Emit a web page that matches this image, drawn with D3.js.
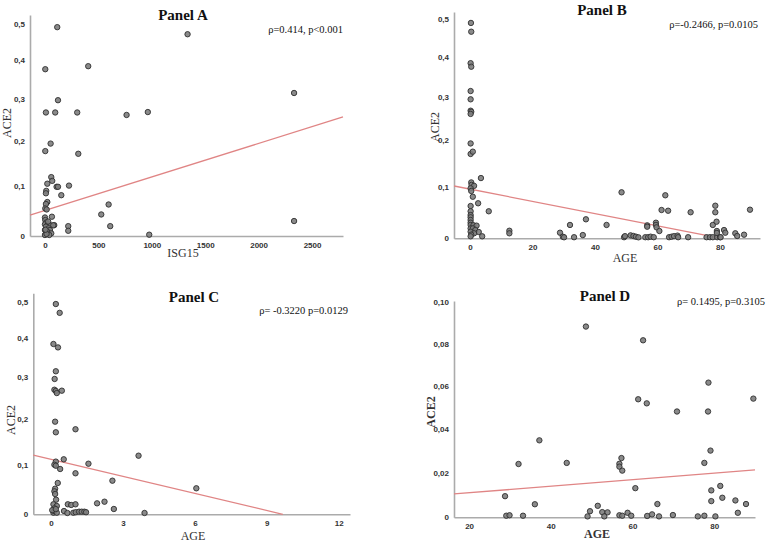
<!DOCTYPE html>
<html><head><meta charset="utf-8">
<script src="https://cdn.jsdelivr.net/npm/d3@7"></script>
<style>
html,body{margin:0;padding:0;background:#fff;}
svg{display:block;}
.tick text{font-family:"Liberation Sans",Arial,sans-serif;font-weight:bold;font-size:8px;fill:#333;}
</style></head>
<body><svg id="c" width="767" height="544"></svg>
<script>
// ---------- DATA ----------
const panelTitles = ["Panel A", "Panel B", "Panel C", "Panel D"];
const statLabels = ["ρ=0.414, p<0.001", "ρ=-0.2466, p=0.0105", "ρ= -0.3220 p=0.0129", "ρ= 0.1495, p=0.3105"];
const xLabels = ["ISG15", "AGE", "AGE", "AGE"];
const yLabel = "ACE2";

const xTicksA = [0, 500, 1000, 1500, 2000, 2500];
const xTicksB = [0, 20, 40, 60, 80];
const xTicksC = [0, 3, 6, 9, 12];
const xTicksD = [20, 40, 60, 80];
const yTicksABC = [0, 0.1, 0.2, 0.3, 0.4, 0.5];
const yTicksD = [0, 0.02, 0.04, 0.06, 0.08, 0.10];

// Panel A: [ISG15, ACE2]
const pointsA = [[115,0.49],[3,0.375],[405,0.383],[122,0.296],[9,0.266],[96,0.266],[302,0.266],[764,0.26],[963,0.267],
[1335,0.47],[2332,0.314],[2332,0.029],[53,0.193],[3,0.176],[312,0.17],[59,0.119],[68,0.111],[22,0.105],[109,0.0985],
[122,0.0985],[225,0.101],[153,0.081],[12,0.09],[9,0.085],[22,0.067],[9,0.063],[3,0.054],[16,0.052],[596,0.062],
[527,0.042],[65,0.0375],[611,0.019],[218,0.019],[218,0.010],[976,0.0025],[87,0.021],[0,0.036],[3,0.031],[12,0.026],
[0,0.0226],[28,0.0226],[53,0.0206],[78,0.0206],[9,0.018],[35,0.0148],[47,0.0115],[0,0.0115],[22,0.0082],[59,0.0051],
[9,0.0045],[40,0.0019],[0,0.0019],[15,0.004],[5,0.012],[30,0.028]];
// Panel B: [AGE, ACE2]
const pointsB = [[0.3,0.49],[0.4,0.466],[0.2,0.383],[0.4,0.374],[0.2,0.3135],[0.2,0.2935],[0.2,0.2665],[0.4,0.264],
[0.2,0.259],[0.2,0.192],[0.2,0.169],[0.9,0.174],[3.5,0.118],[0.4,0.109],[0.5,0.104],[1.3,0.102],[0.2,0.097],[0.4,0.0916],
[0.9,0.08],[2.6,0.067],[6,0.0513],[0.2,0.0616],[0.2,0.0513],[0.2,0.044],[0.2,0.0397],[0.2,0.0345],[0.2,0.0293],[0.2,0.025],
[1.1,0.0245],[2.1,0.0237],[0.2,0.0185],[0.9,0.0185],[1.7,0.0154],[2.8,0.0117],[0.2,0.0123],[1.3,0.0093],[0.4,0.0067],
[3.9,0.0037],[0.2,0.0037],[12.6,0.0141],[12.6,0.0093],[28.8,0.0104],[29.7,0.003],[30.1,0.0019],[32,0.025],[33.3,0.002],
[36.1,0.006],[37.1,0.0358],[43.7,0.025],[48.5,0.0889],[49.3,0.002],[49.6,0.004],[51.4,0.0055],[52.3,0.0043],[53.1,0.003],
[53.9,0.0018],[56.7,0.0243],[56.7,0.0217],[56.1,0.002],[57,0.002],[57.8,0.003],[58.8,0.002],[59.5,0.0293],[59.5,0.0251],
[59.7,0.0205],[60.6,0.0136],[62.5,0.0829],[61.3,0.0538],[63.4,0.0524],[63.7,0.002],[64.5,0.003],[65.3,0.004],[66.4,0.005],
[66.6,0.002],[69.8,0.002],[70.6,0.0494],[75.7,0.002],[76.8,0.002],[77.7,0.002],[79.1,0.002],[80,0.002],[77.7,0.025],
[78.5,0.0622],[78.5,0.0494],[78.9,0.0312],[79,0.0136],[79,0.010],[81.3,0.0154],[81.7,0.0104],[84.9,0.0093],[85.5,0.0043],
[87.7,0.0067],[89.6,0.0544],[80.2,0.002]];
// Panel C: [AGE, ACE2]
const pointsC = [[0.2,0.495],[0.36,0.47],[0.1,0.385],[0.29,0.376],[0.2,0.3146],[0.15,0.2954],[0.14,0.269],[0.2,0.266],
[0.24,0.261],[0.45,0.2667],[0.17,0.1938],[0.2,0.1698],[1.02,0.1766],[3.65,0.1186],[0.53,0.1109],[1.56,0.1016],[0.2,0.106],
[0.14,0.0995],[0.2,0.0974],[0.38,0.0905],[1.02,0.0816],[2.56,0.0664],[0.28,0.0617],[0.17,0.0502],[0.14,0.045],[0.17,0.0396],
[0.21,0.0283],[0.1,0.0193],[0.24,0.016],[0.14,0.0115],[0.7,0.0193],[0.84,0.018],[1.02,0.0193],[1.92,0.0212],[2.23,0.0244],
[2.62,0.0102],[3.9,0.0025],[0.54,0.0063],[0.68,0.0025],[0.93,0.003],[1.03,0.004],[1.17,0.005],[1.28,0.005],[1.39,0.005],
[1.46,0.004],[0.1,0.003],[0.14,0.006],[0.24,0.003],[0.05,0.008],[0.2,0.010],[6.06,0.051]];
// Panel D: [AGE, ACE2]
const pointsD = [[48.6,0.0882],[62.6,0.0816],[78.6,0.0615],[61.4,0.0537],[63.5,0.0518],[89.6,0.054],[70.9,0.048],[78.5,0.048],
[37.2,0.0347],[79.1,0.030],[57.3,0.0266],[32.1,0.0239],[43.9,0.0244],[56.8,0.024],[56.8,0.0227],[77.6,0.0244],[57.5,0.0209],
[60.7,0.013],[81.5,0.014],[79.3,0.012],[82,0.0087],[79.3,0.0072],[85.2,0.0075],[87.8,0.0059],[28.8,0.0094],[36.1,0.0058],
[66.1,0.0059],[51.5,0.0051],[49.6,0.0027],[52.6,0.0023],[53.9,0.0022],[58.8,0.002],[85.8,0.002],[29.1,0.0007],[29.9,0.0009],
[33.2,0.0007],[49,0.0004],[53.1,0.0004],[56.8,0.0009],[57.5,0.0007],[59.7,0.0007],[63.6,0.0006],[64.8,0.0013],[66.5,0.0004],
[69.9,0.001],[76,0.0004],[77.6,0.0007],[80.3,0.0004]];

// Fit lines (endpoints)
const fitA = [[-140,0.0408],[2790,0.2553]];
const fitB = [[-5.1,0.1017],[80.5,0]];
const fitC = [[-0.74,0.12],[9.67,0]];
const fitD = [[16.3,0.0104],[90,0.0212]];

// ---------- LAYOUT ----------
const panels = [
  {pts:pointsA, fit:fitA, xt:xTicksA, yt:yTicksABC, xd:[-140,2790], yd:[0,0.525], x0:30, x1:343, y0:236, y1:15,
   title:[183,20], stat:[343,33], xl:[183,257], yl:[11,123], bold:false},
  {pts:pointsB, fit:fitB, xt:xTicksB, yt:yTicksABC, xd:[-5.12,92.8], yd:[0,0.5205], x0:454, x1:760, y0:238.3, y1:12,
   title:[602,15], stat:[758,28], xl:[625,262], yl:[439,127], bold:false},
  {pts:pointsC, fit:fitC, xt:xTicksC, yt:yTicksABC, xd:[-0.74,12.47], yd:[0,0.526], x0:33.3, x1:350, y0:514.3, y1:293.3,
   title:[194,302], stat:[348,314], xl:[193,540], yl:[15,420], bold:false},
  {pts:pointsD, fit:fitD, xt:xTicksD, yt:yTicksD, xd:[16.3,90], yd:[0,0.1006], x0:454, x1:755, y0:517.3, y1:301,
   title:[605,301], stat:[765,305], xl:[597,538], yl:[435,412], bold:true}
];

const svg = d3.select("#c");
const fmtComma = v => v === 0 ? "0" : d3.format(".1f")(v).replace(".", ",");
const fmtComma2 = v => v === 0 ? "0" : d3.format(".2f")(v).replace(".", ",");

panels.forEach((p, i) => {
  const g = svg.append("g");
  const x = d3.scaleLinear().domain(p.xd).range([p.x0, p.x1]);
  const y = d3.scaleSymlog().constant(1).domain(p.yd).range([p.y0, p.y1]);

  const xa = g.append("g").attr("transform", `translate(0,${p.y0})`)
    .call(d3.axisBottom(x).tickValues(p.xt).tickSize(0).tickPadding(6).tickFormat(d3.format("d")));
  const ya = g.append("g").attr("transform", `translate(${p.x0},0)`)
    .call(d3.axisLeft(y).tickValues(p.yt).tickSize(0).tickPadding(5).tickFormat(i === 3 ? fmtComma2 : fmtComma));
  [xa, ya].forEach(a => a.select(".domain").attr("stroke", "#ababab").attr("stroke-width", 1.6));

  // fit line
  g.append("path").datum(p.fit)
    .attr("d", d3.line().x(d => x(d[0])).y(d => y(d[1])))
    .attr("fill", "none").attr("stroke", "#e08585").attr("stroke-width", 1.3);

  // points
  g.append("g").selectAll("circle").data(p.pts).join("circle")
    .attr("cx", d => x(d[0])).attr("cy", d => y(d[1])).attr("r", 2.7)
    .attr("fill", "#7d7d7d").attr("stroke", "#2f2f2f").attr("stroke-width", 0.9).attr("fill-opacity", 0.9);

  const serif = "'Liberation Serif','Times New Roman',serif";
  g.append("text").attr("x", p.title[0]).attr("y", p.title[1]).attr("text-anchor", "middle")
    .attr("font-family", serif).attr("font-weight", "bold").attr("font-size", 15).attr("fill", "#111")
    .text(panelTitles[i]);
  g.append("text").attr("x", p.stat[0]).attr("y", p.stat[1]).attr("text-anchor", "end")
    .attr("font-family", serif).attr("font-size", 10.5).attr("fill", "#111").text(statLabels[i]);
  g.append("text").attr("x", p.xl[0]).attr("y", p.xl[1]).attr("text-anchor", "middle")
    .attr("font-family", serif).attr("font-size", 12).attr("font-weight", p.bold ? "bold" : "normal")
    .attr("fill", "#333").text(xLabels[i]);
  g.append("text").attr("transform", `translate(${p.yl[0]},${p.yl[1]}) rotate(-90)`).attr("text-anchor", "middle")
    .attr("font-family", serif).attr("font-size", 12).attr("font-weight", p.bold ? "bold" : "normal")
    .attr("fill", "#333").text(yLabel);
});
</script></body></html>
